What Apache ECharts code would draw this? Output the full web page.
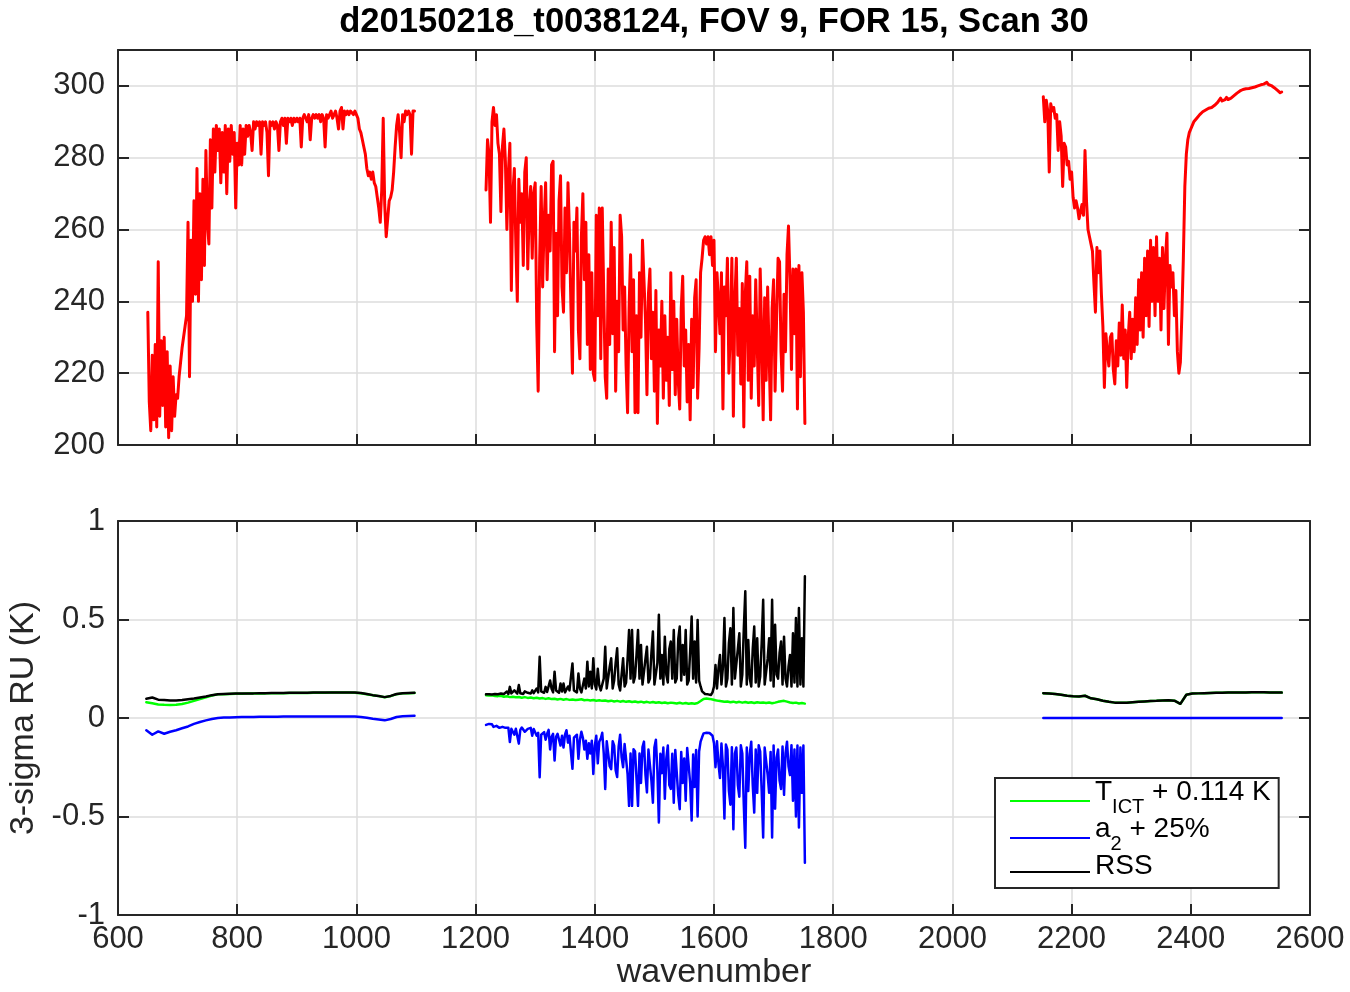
<!DOCTYPE html>
<html><head><meta charset="utf-8">
<script src="https://cdn.jsdelivr.net/npm/echarts@6/dist/echarts.min.js"></script>
<style>html,body{margin:0;padding:0;background:#fff}#c{width:1350px;height:992px}</style>
</head><body><div id="c"></div>
<script>
const TITLE = 'd20150218_t0038124, FOV 9, FOR 15, Scan 30';
const X_LABEL = 'wavenumber';
const Y_LABEL_BOTTOM = '3-sigma RU (K)';
const LEGEND_NAMES = ['TICT + 0.114 K', 'a2 + 25%', 'RSS'];
const X_MIN = 600, X_MAX = 2600, X_INT = 200;
const YT_MIN = 200, YT_MAX = 310, YT_INT = 20, YT_LAST_LABEL = 300;
const YB_MIN = -1, YB_MAX = 1, YB_INT = 0.5;

// ---- top panel: brightness temperature (K), three bands ----
const LW_TOP_START = 650, LW_TOP_STEP = 2.5;
const lwTop = [
237,212,204,225,207,228,205,251,208,229,
211,230,205,226,202,222,204,219,208,214,
213,219,223,227,230,233,236,262,219,257,
240,268,242,277,240,270,246,274,250,282,
262,256,285,266,288,276,289,282,288,273,
287,276,289,270,288,279,289,281,287,266,
284,278,289,278,288,281,289,286,289,287,
282,290,288,290,289,290,281,290,289,290,
287,275,290,289,290,288,290,289,282,290,
291,289,291,284,291,290,291,289,291,290,
291,290,291,283,291,292,291,290,292,285,
291,292,291,292,291,292,290,292,291,283,
292,291,292,293,291,292,293,291,288,293,
294,288,293,292,293,292,293,293,292,293,
292,291,288,287,285,283,281,277,275,276,
274,276,273,272,269,266,262,271,291,267,
258,263,268,269,271,276,283,289,292,287,
280,292,290,293,292,293,292,281,293,293];

const MW_TOP_START = 1217.5, MW_TOP_STEP = 2.5;
const mwTop = [
271,285,281,262,290,294,289,292,284,281,
265,283,288,279,260,276,284,243,270,277,
256,240,274,262,270,250,276,280,249,266,
272,252,270,273,234,215,252,272,244,262,
273,246,264,254,278,279,226,259,236,268,
275,244,237,266,248,273,259,238,220,262,
254,266,232,224,258,270,246,262,228,253,
221,248,220,218,264,236,266,224,266,242,
219,213,249,228,262,231,255,215,240,226,
264,258,232,244,222,209,238,253,226,246,
209,236,209,248,230,257,257,235,214,242,
249,224,237,215,243,206,232,222,240,213,
236,218,230,211,248,221,240,214,235,218,
210,238,247,222,232,212,228,207,235,216,
241,246,213,227,248,252,257,258,256,258,
253,258,250,257,226,248,240,231,248,210,
244,236,252,220,232,252,208,240,252,225,
238,217,245,205,242,251,218,247,213,236,
222,246,228,211,249,231,207,241,218,244,
225,207,238,246,215,235,252,251,226,215,
242,226,253,261,246,221,249,231,249,210,
250,219,248,237,206];

const SW_TOP_START = 2152.5, SW_TOP_STEP = 2.5;
const swTop = [
297,290,296,293,276,295,293,294,291,292,
282,290,286,272,284,283,278,279,274,276,
269,266,268,266,263,265,267,264,282,268,
260,258,256,254,245,237,255,248,254,242,
233,216,231,226,222,230,231,221,217,229,
222,234,225,239,224,232,216,230,237,224,
235,226,241,228,246,232,248,230,252,236,
254,233,257,240,255,236,258,240,252,232,
255,238,252,259,228,250,244,248,236,243,
226,220,223,236,252,272,281,285,287,288,
289,290,290.5,291,291.5,292,292.5,292.8,293,293.3,
293.5,293.8,294,294,294.4,294.6,295,295.4,295.8,296.6,
295.8,296,296.2,296.8,296.2,296.4,296.6,297,297.3,297.6,
298,298.3,298.6,298.8,299,299.1,299.2,299.2,299.3,299.4,
299.5,299.5,299.7,299.9,300,300.2,300.3,300.3,300.5,300.6,
301,300.4,300.5,300.1,299.8,299.5,299.1,298.8,298.5,298.1,
298.3];

// ---- bottom panel: 3-sigma RU (K) ----
const LW_BOT_START = 647.5, LW_BOT_STEP = 10;
const tictLW = [
.080,.075,.069,.067,.066,.067,.071,.078,.087,.096,
.105,.114,.120,.121,.122,.123,.123,.124,.124,.125,
.125,.126,.126,.126,.127,.127,.127,.127,.128,.128,
.128,.129,.129,.129,.129,.128,.126,.121,.115,.111,
.105,.111,.121,.125,.126,.127];
const a2LW = [
-.062,-.085,-.068,-.080,-.070,-.062,-.052,-.043,-.030,-.020,
-.012,-.005,.000,.002,.003,.004,.005,.005,.005,.006,
.006,.006,.006,.007,.007,.007,.007,.007,.008,.008,
.008,.008,.008,.008,.008,.007,.005,.001,-.004,-.008,
-.012,-.005,.005,.009,.010,.011];
const rssLW = [
.098,.104,.093,.091,.089,.089,.091,.095,.099,.104,
.109,.116,.121,.122,.123,.124,.124,.125,.125,.126,
.126,.127,.127,.127,.128,.128,.128,.128,.129,.129,
.129,.130,.130,.130,.130,.129,.127,.122,.116,.112,
.106,.112,.122,.126,.127,.128];

const MW_TICT_START = 1217.5, MW_TICT_STEP = 5;
const tictMW = [
.116,.114,.115,.112,.111,.113,.108,.110,.106,.108,
.105,.107,.103,.106,.102,.104,.100,.103,.099,.101,
.097,.100,.096,.098,.094,.097,.093,.096,.092,.094,
.091,.093,.095,.090,.092,.089,.091,.088,.090,.087,
.089,.085,.088,.084,.087,.083,.086,.082,.085,.081,
.084,.080,.083,.079,.082,.078,.081,.077,.080,.076,
.079,.075,.078,.076,.074,.077,.073,.076,.072,.075,
.072,.076,.086,.097,.099,.097,.094,.090,.087,.085,
.082,.084,.080,.083,.079,.082,.078,.081,.077,.080,
.076,.080,.077,.079,.076,.079,.075,.078,.082,.085,
.087,.083,.079,.076,.078,.074,.076,.073];

const MW_BOT_START = 1217.5, MW_BOT_STEP = 2.5;
const a2MW = [
-.035,-.040,-.030,-.037,-.032,-.045,-.036,-.040,-.033,-.050,
-.040,-.045,-.038,-.050,-.060,-.050,-.122,-.055,-.045,-.085,
-.055,-.055,-.130,-.060,-.048,-.055,-.070,-.060,-.055,-.058,
-.050,-.090,-.056,-.062,-.090,-.075,-.301,-.085,-.080,-.072,
-.110,-.080,-.060,-.160,-.095,-.080,-.216,-.095,-.080,-.078,
-.140,-.090,-.150,-.085,-.062,-.125,-.090,-.092,-.258,-.100,
-.100,-.085,-.207,-.110,-.070,-.100,-.160,-.115,-.207,-.128,
-.180,-.115,-.284,-.140,-.090,-.230,-.120,-.105,-.075,-.178,
-.360,-.118,-.110,-.245,-.260,-.118,-.140,-.265,-.300,-.145,
-.085,-.200,-.250,-.132,-.130,-.285,-.446,-.180,-.446,-.158,
-.170,-.305,-.446,-.180,-.330,-.148,-.120,-.288,-.378,-.160,
-.160,-.318,-.430,-.150,-.110,-.268,-.530,-.182,-.280,-.150,
-.410,-.205,-.140,-.340,-.360,-.182,-.430,-.162,-.160,-.392,
-.463,-.172,-.330,-.205,-.420,-.152,-.150,-.330,-.520,-.185,
-.350,-.162,-.500,-.170,-.120,-.098,-.078,-.075,-.075,-.072,
-.076,-.070,-.090,-.128,-.250,-.118,-.230,-.305,-.130,-.245,
-.510,-.135,-.160,-.370,-.440,-.148,-.565,-.180,-.150,-.340,
-.400,-.138,-.180,-.440,-.658,-.150,-.370,-.182,-.120,-.340,
-.480,-.160,-.380,-.138,-.170,-.370,-.607,-.150,-.140,-.288,
-.380,-.172,-.607,-.140,-.460,-.202,-.160,-.318,-.360,-.145,
-.390,-.180,-.120,-.245,-.290,-.138,-.420,-.160,-.500,-.140,
-.556,-.150,-.380,-.140,-.735];
const rssMW = [
.120,.122,.121,.120,.119,.123,.122,.120,.121,.126,
.124,.121,.122,.124,.134,.122,.158,.125,.125,.140,
.130,.124,.167,.126,.126,.122,.135,.125,.128,.123,
.124,.140,.126,.124,.150,.130,.311,.135,.140,.128,
.158,.132,.130,.190,.148,.130,.235,.140,.140,.128,
.175,.135,.175,.130,.128,.160,.140,.135,.277,.140,
.150,.130,.226,.150,.130,.140,.200,.150,.286,.160,
.235,.150,.303,.170,.145,.250,.167,.140,.135,.200,
.362,.150,.160,.260,.303,.150,.190,.280,.354,.170,
.140,.220,.303,.160,.180,.300,.447,.200,.447,.180,
.210,.320,.447,.200,.371,.170,.170,.300,.362,.180,
.200,.330,.439,.170,.160,.280,.524,.200,.320,.170,
.413,.220,.180,.350,.388,.200,.447,.180,.200,.400,
.464,.190,.371,.220,.447,.170,.190,.340,.515,.200,
.388,.180,.498,.190,.160,.135,.125,.122,.118,.120,
.118,.117,.130,.160,.269,.150,.252,.320,.170,.260,
.507,.160,.200,.380,.456,.170,.558,.200,.190,.350,
.430,.160,.220,.450,.643,.170,.396,.200,.160,.350,
.464,.180,.405,.160,.210,.380,.600,.170,.180,.300,
.405,.190,.600,.160,.473,.220,.200,.330,.388,.170,
.413,.200,.160,.260,.320,.160,.430,.180,.507,.160,
.558,.170,.405,.160,.720];

const SW_BOT_START = 2152.5, SW_BOT_STEP = 10;
const tictSW = [
.126,.124,.122,.118,.113,.110,.109,.113,.100,.095,
.088,.082,.078,.077,.078,.080,.082,.084,.086,.087,
.089,.090,.088,.072,.118,.124,.125,.126,.127,.128,
.128,.129,.129,.130,.130,.131,.131,.131,.130,.130,
.129];
const rssSW = [
.126,.124,.122,.118,.113,.110,.109,.113,.100,.095,
.088,.082,.078,.077,.078,.080,.082,.084,.086,.087,
.089,.090,.088,.072,.118,.124,.125,.126,.127,.128,
.128,.129,.129,.130,.130,.131,.131,.131,.130,.130,
.129];
const A2_SW_STEP = 50;
const a2SW = [0,0,0,0,0,0,0,0,0];

// ---------------- chart ----------------
const FONT = '"Liberation Sans", Arial, Helvetica, sans-serif';
const AX = '#262626', GRIDC = '#dcdcdc';
const RED = '#ff0000', GREEN = '#00ff00', BLUE = '#0000ff', BLACK = '#000000';
// legend line icons: an 80x20 box whose drawn bar sits low (text baseline) or near middle
const ICON_LOW = 'path://M0,0L0,0M0,18L80,18L80,20L0,20Z';
const ICON_MID = 'path://M0,0L0,0M0,12L80,12L80,14L0,14Z';

function pts(start, step, vals) {
  return vals.map((v, i) => [+(start + i * step).toFixed(3), v]);
}
function axis(kind, gridIndex, position, min, max, interval, showLabel, showSplit, extra) {
  return Object.assign({
    type: 'value', gridIndex, position, min, max, interval,
    axisLine: { show: true, onZero: false, lineStyle: { color: AX, width: 2 } },
    axisTick: { show: true, inside: true, length: 11, lineStyle: { color: AX, width: 2 } },
    axisLabel: { show: showLabel, color: AX, fontSize: 31, fontFamily: FONT,
                 margin: kind === 'x' ? 9 : 13, formatter: v => String(v) },
    splitLine: { show: showSplit, lineStyle: { color: GRIDC, width: 1.5 } },
    minorTick: { show: false }
  }, extra || {});
}
function line(name, color, width, xi, yi, data, z) {
  return {
    name, type: 'line', xAxisIndex: xi, yAxisIndex: yi, data, color,
    showSymbol: false, symbol: 'none', animation: false, silent: true, z,
    lineStyle: { color, width, join: 'round', cap: 'round' },
    emphasis: { disabled: true }
  };
}

const chart = echarts.init(document.getElementById('c'), null, { renderer: 'canvas' });
chart.setOption({
  animation: false,
  backgroundColor: '#ffffff',
  title: {
    text: TITLE, left: 714, top: 5, padding: 0, textAlign: 'center',
    textStyle: { fontSize: 34.6, fontWeight: 'bold', fontFamily: FONT, color: '#000' }
  },
  grid: [
    { left: 118, top: 50, width: 1192, height: 395, outerBoundsMode: 'none' },
    { left: 118, top: 521, width: 1192, height: 394, outerBoundsMode: 'none' }
  ],
  xAxis: [
    axis('x', 0, 'bottom', X_MIN, X_MAX, X_INT, false, true),
    axis('x', 0, 'top', X_MIN, X_MAX, X_INT, false, false),
    axis('x', 1, 'bottom', X_MIN, X_MAX, X_INT, true, true, {
      name: X_LABEL, nameLocation: 'middle', nameGap: 30,
      nameTextStyle: { fontSize: 34, fontFamily: FONT, color: AX }
    }),
    axis('x', 1, 'top', X_MIN, X_MAX, X_INT, false, false)
  ],
  yAxis: [
    (function () {
      const a = axis('y', 0, 'left', YT_MIN, YT_MAX, YT_INT, true, true);
      a.axisLabel.formatter = v => (v > YT_LAST_LABEL ? '' : String(v));
      return a;
    })(),
    axis('y', 0, 'right', YT_MIN, YT_MAX, YT_INT, false, false),
    axis('y', 1, 'left', YB_MIN, YB_MAX, YB_INT, true, true, {
      name: Y_LABEL_BOTTOM, nameLocation: 'middle', nameGap: 68,
      nameTextStyle: { fontSize: 34, fontFamily: FONT, color: AX }
    }),
    axis('y', 1, 'right', YB_MIN, YB_MAX, YB_INT, false, false)
  ],
  legend: {
    data: [
      { name: LEGEND_NAMES[0], icon: ICON_LOW },
      { name: LEGEND_NAMES[1], icon: ICON_LOW },
      { name: LEGEND_NAMES[2], icon: ICON_MID }
    ],
    orient: 'vertical', left: 995, top: 778,
    padding: [0, 8, 2, 15], itemGap: -10, itemWidth: 80, itemHeight: 20, itemTextGap: 10,
    backgroundColor: '#ffffff', borderColor: AX, borderWidth: 2,
    selectedMode: false,
    formatter: function (n) {
      if (n === LEGEND_NAMES[0]) return '{m|T}{s|ICT}{m| + 0.114 K}';
      if (n === LEGEND_NAMES[1]) return '{m|a}{s|2}{m| + 25%}';
      return '{r|RSS}';
    },
    textStyle: {
      fontFamily: FONT, color: '#000', fontSize: 28,
      rich: {
        m: { fontSize: 28, lineHeight: 28, verticalAlign: 'top', fontFamily: FONT, color: '#000' },
        s: { fontSize: 20, lineHeight: 20, padding: [19, 0, 8, 0], verticalAlign: 'top', fontFamily: FONT, color: '#000' },
        r: { fontSize: 28, lineHeight: 28, padding: [0, 0, 6, 0], verticalAlign: 'top', fontFamily: FONT, color: '#000' }
      }
    }
  },
  series: [
    line('BT', RED, 3, 0, 0, pts(LW_TOP_START, LW_TOP_STEP, lwTop), 2),
    line('BT', RED, 3, 0, 0, pts(MW_TOP_START, MW_TOP_STEP, mwTop), 2),
    line('BT', RED, 3, 0, 0, pts(SW_TOP_START, SW_TOP_STEP, swTop), 2),
    line(LEGEND_NAMES[0], GREEN, 2.5, 2, 2, pts(LW_BOT_START, LW_BOT_STEP, tictLW), 2),
    line(LEGEND_NAMES[0], GREEN, 2.5, 2, 2, pts(MW_TICT_START, MW_TICT_STEP, tictMW), 2),
    line(LEGEND_NAMES[0], GREEN, 2.5, 2, 2, pts(SW_BOT_START, SW_BOT_STEP, tictSW), 2),
    line(LEGEND_NAMES[1], BLUE, 2.5, 2, 2, pts(LW_BOT_START, LW_BOT_STEP, a2LW), 3),
    line(LEGEND_NAMES[1], BLUE, 2.5, 2, 2, pts(MW_BOT_START, MW_BOT_STEP, a2MW), 3),
    line(LEGEND_NAMES[1], BLUE, 2.5, 2, 2, pts(SW_BOT_START, A2_SW_STEP, a2SW), 3),
    line(LEGEND_NAMES[2], BLACK, 2.5, 2, 2, pts(LW_BOT_START, LW_BOT_STEP, rssLW), 4),
    line(LEGEND_NAMES[2], BLACK, 2.5, 2, 2, pts(MW_BOT_START, MW_BOT_STEP, rssMW), 4),
    line(LEGEND_NAMES[2], BLACK, 2.5, 2, 2, pts(SW_BOT_START, SW_BOT_STEP, rssSW), 4)
  ]
});
</script></body></html>
